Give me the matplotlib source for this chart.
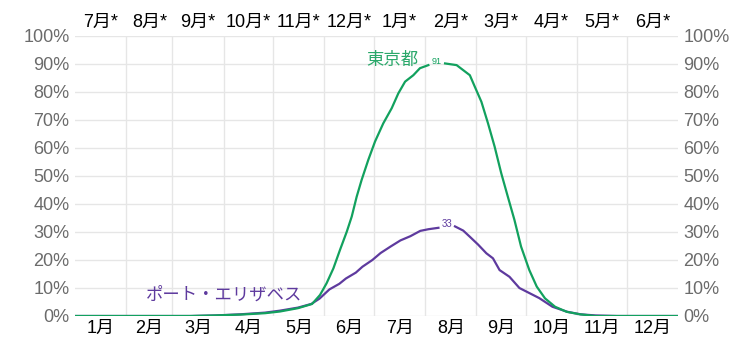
import matplotlib.pyplot as plt
import numpy as np

plt.rcParams['font.family'] = ['Liberation Sans', 'Noto Sans CJK JP', 'DejaVu Sans']

# month boundaries (day of year) and labels
month_starts = [0, 31, 59, 90, 120, 151, 181, 212, 243, 273, 304, 334, 365]
month_labels = ['1月', '2月', '3月', '4月', '5月', '6月',
                '7月', '8月', '9月', '10月', '11月', '12月']
top_labels = ['7月*', '8月*', '9月*', '10月*', '11月*', '12月*',
              '1月*', '2月*', '3月*', '4月*', '5月*', '6月*']

# Tokyo
tokyo_name = '東京都'
tokyo_days = [0, 70, 85, 100, 115, 124, 135, 143.5, 148.3, 152.3, 156.4, 160.4,
              164.5, 167.5, 170.5, 173.5, 177.5, 181.6, 186.6, 191.7, 195.7,
              199.8, 204.8, 208.8, 213.9, 219, 224, 231, 239, 242, 246, 250, 254,
              258, 262, 266, 270, 275, 279.5, 284.5, 290.6, 297.6, 305.7, 315, 365]
tokyo_vals = [0, 0, 0.2, 0.5, 1.0, 1.6, 2.8, 4.3, 7.5, 11.7, 17, 23.6,
              30.1, 35.5, 42.6, 48.6, 55.7, 62.3, 68.8, 74.2, 79.5,
              83.7, 86, 88.5, 89.6, np.nan, 90.2, 89.6, 86, 81.9, 76.5, 68.8, 60.5,
              51, 42.6, 34.3, 24.8, 16.4, 10.5, 6.3, 3.3, 1.5, 0.6, 0, 0]
tokyo_peak_day, tokyo_peak = 219, 91

# Port Elizabeth
pe_name = 'ポート・エリザベス'
pe_days = [0, 70, 85, 100, 115, 124, 135, 143, 148, 154, 160, 164, 170, 174,
           180, 185, 191, 197, 203, 209, 214, 220, 225, 230, 235, 239, 244, 249,
           253, 257, 263, 269, 275, 281, 289, 298, 306, 315, 328, 365]
pe_vals = [0, 0, 0.2, 0.6, 1.2, 1.9, 3.0, 4.3, 6.2, 9.5, 11.5, 13.4, 15.5, 17.6,
           20, 22.5, 24.8, 27, 28.5, 30.4, 31, 31.5, np.nan, 32, 30.5, 28.3, 25.5,
           22.4, 20.6, 16.4, 14, 10, 8.2, 6.4, 3.3, 1.5, 0.6, 0.2, 0, 0]
pe_peak_day, pe_peak = 225, 33

green = '#12a15e'
purple = '#5e3a9e'
grid_c = '#e6e6e6'
tick_c = '#6b6b6b'

fig = plt.figure(figsize=(7.53, 3.43), dpi=100)
ax = fig.add_axes([75 / 753, 27 / 343, 603 / 753, 280 / 343])

ax.set_xlim(0, 365)
ax.set_ylim(0, 100)

for d in month_starts[1:-1]:
    ax.axvline(d, color=grid_c, lw=1, zorder=0)
for v in range(0, 101, 10):
    ax.axhline(v, color=grid_c, lw=1, zorder=0)

ax.plot(pe_days, pe_vals, color=purple, lw=1.6, zorder=3)
ax.plot(tokyo_days, tokyo_vals, color=green, lw=1.6, zorder=4)

ax.text(tokyo_peak_day, tokyo_peak, str(tokyo_peak), color=green, fontsize=6.5,
        ha='center', va='center')
ax.text(pe_peak_day, pe_peak, str(pe_peak), color=purple, fontsize=7,
        ha='center', va='center')
ax.text(208, 91.5, tokyo_name, color='#2aa86a', fontsize=12.5, ha='right', va='center')
ax.text(43, 7.8, pe_name, color=purple, fontsize=12.5, ha='left', va='center')

centers = [(a + b) / 2 for a, b in zip(month_starts[:-1], month_starts[1:])]
ax.set_xticks(centers)
ax.set_xticklabels(month_labels, fontsize=13, color='black')
ax.tick_params(axis='x', length=0, pad=2.5)
for c, lab in zip(centers, top_labels):
    ax.text(c, 1.048, lab, transform=ax.get_xaxis_transform(), fontsize=13,
            ha='center', va='center', color='black')

yt = list(range(0, 101, 10))
ax.set_yticks(yt)
ax.set_yticklabels([f'{v}%' for v in yt], fontsize=13, color=tick_c)
ax.tick_params(axis='y', length=0, pad=4, labelright=True, labelleft=True)

for s in ax.spines.values():
    s.set_visible(False)

fig.savefig('out.png', dpi=100)
